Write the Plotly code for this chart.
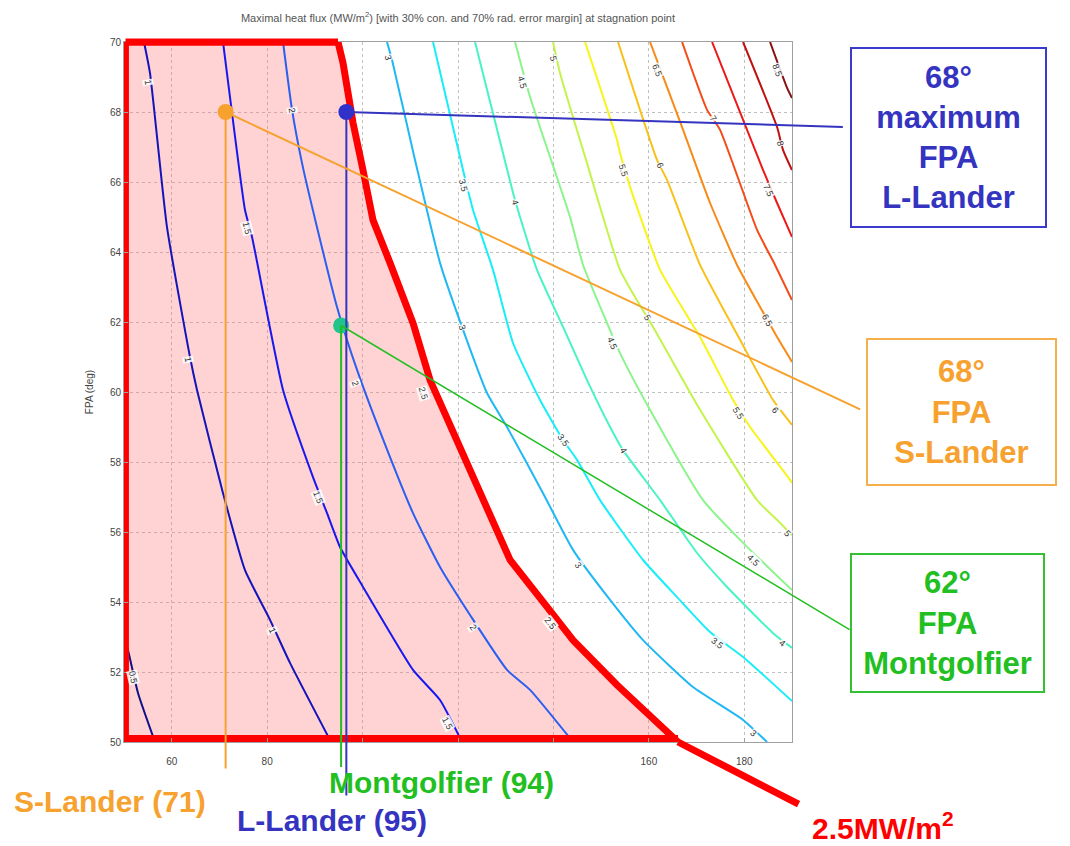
import math
import plotly.graph_objects as go

# ---------------- data ----------------
beta_ticks = [60, 80, 100, 120, 140, 160, 180]
beta_tick_text = ["60", "80", "", "", "", "160", "180"]
fpa_ticks = [50, 52, 54, 56, 58, 60, 62, 64, 66, 68, 70]

# contour lines of maximal heat flux (MW/m2): ballistic coefficient vs FPA
q05_beta = [50.0, 50.84, 52.93, 56.50]
q05_fpa = [53.11, 52.63, 51.40, 50.0]
q10_beta = [54.19, 55.45, 59.01, 63.83, 65.30, 70.75, 75.36, 80.60, 84.79, 93.39]
q10_fpa = [70.0, 69.11, 64.71, 61.0, 60.06, 57.11, 54.91, 53.49, 52.26, 50.0]
q15_beta = [70.75, 72.64, 75.36, 76.83, 83.33, 89.61, 92.55, 95.27, 100.09, 110.57, 116.23, 120.84]
q15_fpa = [70.0, 67.97, 65.2, 64.43, 60.06, 57.57, 56.54, 55.57, 54.43, 52.06, 51.2, 50.0]
q20_beta = [83.33, 85.22, 87.31, 90.45, 94.64, 98.84, 105.75, 110.57, 116.23, 122.52, 130.28, 135.10, 144.11]
q20_fpa = [70.0, 68.06, 66.54, 64.71, 62.43, 60.63, 58.14, 56.54, 55.0, 53.63, 52.06, 51.49, 50.0]
q25_beta = [94.85, 95.90, 98.0, 100.09, 102.19, 105.75, 110.57, 114.14, 125.25, 130.91, 138.66, 144.11, 153.33, 166.12]
q25_fpa = [70.0, 69.40, 67.69, 66.34, 64.91, 63.69, 61.97, 60.34, 56.91, 55.20, 53.86, 52.91, 51.63, 50.0]
q30_beta = [105.12, 106.17, 110.99, 116.23, 120.84, 126.08, 130.28, 137.82, 144.11, 151.87, 158.78, 169.26, 179.74, 184.77]
q30_fpa = [70.0, 69.49, 66.63, 63.69, 61.86, 59.97, 59.0, 57.11, 55.49, 54.06, 52.91, 51.57, 50.63, 50.0]
q35_beta = [114.77, 121.05, 123.15, 127.34, 131.53, 137.19, 142.01, 144.95, 149.77, 158.78, 165.91, 172.83, 179.74, 190.0]
q35_fpa = [70.0, 66.34, 65.2, 63.49, 61.40, 59.77, 58.63, 58.06, 56.91, 55.2, 54.14, 53.14, 52.43, 51.17]
q40_beta = [123.57, 131.53, 133.0, 136.56, 142.01, 147.04, 151.87, 154.59, 162.35, 170.10, 176.39, 186.03, 190.0]
q40_fpa = [70.0, 65.69, 65.0, 63.49, 61.86, 60.34, 59.0, 58.34, 56.91, 55.4, 54.43, 53.11, 52.69]
q45_beta = [131.95, 135.10, 143.48, 146.21, 151.24, 153.96, 160.24, 171.35, 179.74, 190.0]
q45_fpa = [70.0, 68.43, 65.0, 63.63, 61.97, 61.11, 59.49, 56.91, 55.69, 54.34]
q50_beta = [139.92, 141.39, 147.04, 153.96, 159.62, 160.88, 170.73, 182.68, 187.50, 190.0]
q50_fpa = [70.0, 69.11, 66.54, 63.49, 62.14, 61.86, 59.49, 56.91, 56.26, 55.91]
q55_beta = [146.63, 153.33, 153.96, 156.06, 162.35, 170.73, 177.65, 181.21, 189.59, 190.0]
q55_fpa = [70.0, 67.2, 66.83, 65.86, 63.49, 61.57, 59.77, 59.0, 57.49, 57.4]
q60_beta = [153.54, 161.71, 163.81, 170.73, 179.11, 186.03, 190.0]
q60_fpa = [70.0, 66.63, 66.06, 63.63, 61.49, 59.77, 59.06]
q65_beta = [160.25, 163.81, 166.96, 172.83, 178.48, 183.31, 186.87, 190.0]
q65_fpa = [70.0, 68.71, 67.57, 65.4, 63.63, 62.43, 61.57, 60.86]
q70_beta = [166.96, 172.20, 174.92, 182.68, 186.45, 190.0]
q70_fpa = [70.0, 68.06, 67.49, 64.63, 63.63, 62.63]
q75_beta = [173.25, 183.94, 186.87, 190.0]
q75_fpa = [70.0, 66.34, 65.40, 64.43]
q80_beta = [179.74, 186.87, 188.13, 190.0]
q80_fpa = [70.0, 67.57, 66.91, 66.34]
q85_beta = [185.40, 188.96, 190.0]
q85_fpa = [70.0, 68.69, 68.40]

levels = [0.5, 1.0, 1.5, 2.0, 2.5, 3.0, 3.5, 4.0, 4.5, 5.0, 5.5, 6.0, 6.5, 7.0, 7.5, 8.0, 8.5]
level_beta = [q05_beta, q10_beta, q15_beta, q20_beta, q25_beta, q30_beta, q35_beta, q40_beta,
              q45_beta, q50_beta, q55_beta, q60_beta, q65_beta, q70_beta, q75_beta, q80_beta, q85_beta]
level_fpa = [q05_fpa, q10_fpa, q15_fpa, q20_fpa, q25_fpa, q30_fpa, q35_fpa, q40_fpa,
             q45_fpa, q50_fpa, q55_fpa, q60_fpa, q65_fpa, q70_fpa, q75_fpa, q80_fpa, q85_fpa]

# inline contour labels
label_level = [0.5, 1, 1, 1, 1.5, 1.5, 1.5, 2, 2, 2, 2.5, 2.5, 3, 3, 3, 3, 3.5, 3.5, 3.5,
               4, 4, 4, 4.5, 4.5, 4.5, 5, 5, 5, 5.5, 5.5, 6, 6, 6.5, 6.5, 7, 7.5, 8, 8.5]
label_beta = [51.89, 55.03, 63.41, 81.02, 75.78, 90.66, 117.7, 85.21, 98.42, 123.15, 112.67, 139.29,
              105.33, 120.84, 145.16, 181.84, 121.05, 142.01, 174.29, 131.95, 154.59, 187.91,
              133.42, 152.28, 181.84, 139.92, 159.62, 188.96, 154.59, 178.69, 162.34, 186.45,
              161.71, 184.77, 173.45, 184.98, 187.5, 186.87]
label_fpa = [51.86, 68.86, 60.91, 53.2, 64.69, 57.0, 50.54, 68.06, 60.26, 53.29, 59.97, 53.4,
             69.57, 61.86, 55.06, 50.26, 65.91, 58.63, 52.83, 65.43, 58.34, 52.83,
             68.86, 61.4, 55.2, 69.54, 62.14, 55.97, 66.34, 59.4, 66.49, 59.49,
             69.2, 62.06, 67.83, 65.77, 67.11, 69.2]

# design points
point_names = ["S-Lander", "L-Lander", "Montgolfier"]
point_beta = [71.3, 96.6, 95.5]
point_fpa = [68.0, 68.0, 61.9]

# ---------------- styles ----------------
level_colors = ["#101088", "#1414bb", "#1818ee", "#2a5ff0", "#0080ff", "#20b8f4", "#18eef8",
                "#48f4c4", "#8cf48c", "#c4f44c", "#f8f418", "#f8c018", "#f88a18", "#f44c18",
                "#ee1818", "#c01010", "#881010"]
ORANGE = "#f7a12e"
BLUE = "#3434c0"
GREEN = "#22bf22"
RED = "#ff0000"
FONT = "Liberation Sans"

X0, X1, Y0, Y1 = 50, 190, 50, 70
L, R, T, B = 124, 278, 42, 104
W, H = 1070, 846
PW, PH = W - L - R, H - T - B
PXB = PW / (X1 - X0)
PXF = PH / (Y1 - Y0)


def px(x):   # figure pixel -> paper x
    return (x - L) / PW


def py(y):   # figure pixel -> paper y
    return (H - B - y) / PH


def label_angle(xs, ys, lx, ly):
    best = None
    for i in range(len(xs) - 1):
        mx = (xs[i] + xs[i + 1]) / 2
        my = (ys[i] + ys[i + 1]) / 2
        d = ((mx - lx) * PXB) ** 2 + ((my - ly) * PXF) ** 2
        if best is None or d < best[0]:
            best = (d, i)
    i = best[1]
    dx = (xs[i + 1] - xs[i]) * PXB
    dy = -(ys[i + 1] - ys[i]) * PXF
    a = math.degrees(math.atan2(dy, dx))
    if a > 90:
        a -= 180
    if a < -90:
        a += 180
    return a


fig = go.Figure()

# pink region below the 2.5 MW/m2 limit
fig.add_trace(go.Scatter(x=[X0, X0] + q25_beta, y=[Y0, Y1] + q25_fpa, mode="lines",
                         fill="toself", fillcolor="rgba(255,110,110,0.30)",
                         line=dict(width=0), hoverinfo="skip", showlegend=False))

# contour lines
for lv, xs, ys, col in zip(levels, level_beta, level_fpa, level_colors):
    if lv == 2.5:
        continue
    fig.add_trace(go.Scatter(x=xs, y=ys, mode="lines",
                             line=dict(color=col, width=2, shape="spline", smoothing=0.5),
                             hoverinfo="skip", showlegend=False))

# red 2.5 MW/m2 boundary
fig.add_trace(go.Scatter(x=[q25_beta[-1], 50.3, 50.3] + q25_beta,
                         y=[50.1, 50.1, Y1] + q25_fpa, mode="lines",
                         line=dict(color=RED, width=7), hoverinfo="skip", showlegend=False))

annotations = []

# contour labels
for lv, lx, ly in zip(label_level, label_beta, label_fpa):
    k = levels.index(lv)
    ang = label_angle(level_beta[k], level_fpa[k], lx, ly)
    txt = ("%g" % lv)
    annotations.append(dict(x=lx, y=ly, xref="x", yref="y", text=txt, showarrow=False,
                            textangle=ang, font=dict(family=FONT, size=9, color="#333333"),
                            bgcolor="rgba(255,255,255,0.85)", borderpad=0))

# red boundary: top edge (unclipped) and extension beyond the axes
annotations.append(dict(x=q25_beta[0], y=Y1, xref="x", yref="y", ax=X0, ay=Y1,
                        axref="x", ayref="y", text="", showarrow=True, arrowhead=0,
                        arrowwidth=7, arrowcolor=RED))
annotations.append(dict(x=q25_beta[-1], y=q25_fpa[-1], xref="x", yref="y", ax=122, ay=63,
                        text="", showarrow=True, arrowhead=0, arrowwidth=7, arrowcolor=RED))

# vertical design lines extending below the axes
vert_ay = [658, 685, 443]
point_colors = [ORANGE, BLUE, GREEN]
for bx, bf, col, a in zip(point_beta, point_fpa, point_colors, vert_ay):
    annotations.append(dict(x=bx, y=bf, xref="x", yref="y", ax=0, ay=a, text="",
                            showarrow=True, arrowhead=0, arrowwidth=2, arrowcolor=col))

# pointer lines to boxes
pointer_ax = [636, 498, 510]
pointer_ay = [298, 15, 305]
pointer_w = [2, 2, 1.5]
for bx, bf, col, a1, a2, w in zip(point_beta, point_fpa, point_colors, pointer_ax, pointer_ay, pointer_w):
    annotations.append(dict(x=bx, y=bf, xref="x", yref="y", ax=a1, ay=a2, text="",
                            showarrow=True, arrowhead=0, arrowwidth=w, arrowcolor=col))

# design point markers
fig.add_trace(go.Scatter(x=point_beta, y=point_fpa, mode="markers",
                         marker=dict(size=16, color=[ORANGE, "#3030cc", "#20c48c"]),
                         hoverinfo="skip", showlegend=False, cliponaxis=False))

# boxes
boxes = [
    ("68°<br>maximum<br>FPA<br>L-Lander", BLUE, "#3a3acc", 948.5, 137.5, 193, 177),
    ("68°<br>FPA<br>S-Lander", ORANGE, "#f5b04c", 961.5, 412, 187, 144),
    ("62°<br>FPA<br>Montgolfier", GREEN, "#33c033", 947.5, 623, 191, 136),
]
for txt, col, bcol, cx, cy, bw, bh in boxes:
    annotations.append(dict(x=px(cx), y=py(cy), xref="paper", yref="paper", text="<b>" + txt + "</b>",
                            showarrow=False, xanchor="center", yanchor="middle",
                            width=bw, height=bh, align="center", valign="middle",
                            bordercolor=bcol, borderwidth=2, borderpad=0, bgcolor="white",
                            font=dict(family=FONT, size=31, color=col)))

# bottom labels
bottom = [
    ("<b>S-Lander (71)</b>", ORANGE, 110, 801, 30),
    ("<b>L-Lander (95)</b>", BLUE, 332, 821, 30),
    ("<b>Montgolfier (94)</b>", GREEN, 441, 782, 30),
    ("<b>2.5MW/m<sup>2</sup></b>", RED, 883, 826, 30),
]
for txt, col, cx, cy, fs in bottom:
    annotations.append(dict(x=px(cx), y=py(cy), xref="paper", yref="paper", text=txt,
                            showarrow=False, xanchor="center", yanchor="middle",
                            font=dict(family=FONT, size=fs, color=col)))

axis_common = dict(showline=True, mirror=True, linecolor="#a0a0a0", linewidth=1,
                   ticks="inside", ticklen=4, tickcolor="#a0a0a0",
                   showgrid=True, gridcolor="#c0c0c0", griddash="dot", gridwidth=1,
                   zeroline=False, tickfont=dict(family=FONT, size=10, color="#444444"))

fig.update_layout(
    width=W, height=H,
    margin=dict(l=L, r=R, t=T, b=B),
    paper_bgcolor="white", plot_bgcolor="white",
    title=dict(text="Maximal heat flux (MW/m<sup>2</sup>) [with 30% con. and 70% rad. error margin] at stagnation point",
               x=px(458), xref="paper", xanchor="center", y=1 - 18 / H, yanchor="middle",
               font=dict(family=FONT, size=11, color="#555555")),
    xaxis=dict(range=[X0, X1], tickvals=beta_ticks, ticktext=beta_tick_text,
               ticklabelstandoff=10, **axis_common),
    yaxis=dict(range=[Y0, Y1], tickvals=fpa_ticks,
               title=dict(text="FPA (deg)", font=dict(family=FONT, size=10, color="#444444"), standoff=14),
               **axis_common),
    annotations=annotations,
    showlegend=False,
)

fig.write_html("out.html")
